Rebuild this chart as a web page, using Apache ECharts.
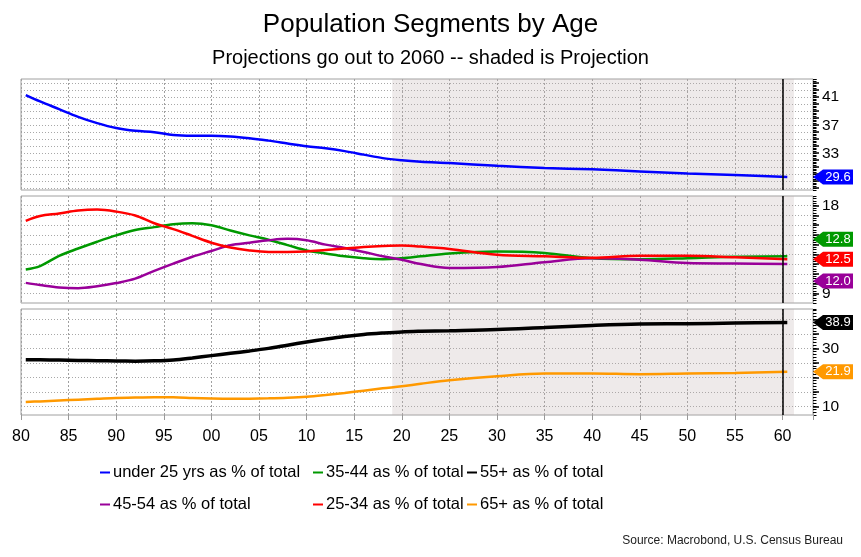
<!DOCTYPE html>
<html><head><meta charset="utf-8">
<script src="https://cdn.jsdelivr.net/npm/echarts@6/dist/echarts.min.js"></script>
<style>html,body{margin:0;padding:0;background:#fff}#c{width:861px;height:557px}</style>
</head><body><div id="c"></div>
<script>
// ---- data ----
const years   = [1980.5,1982,1984,1986,1988,1990,1992,1994,1996,1998,2000,2002,2004,2006,2008,2010,2012,2014,2016,2018,2020,2022,2025,2030,2035,2040,2045,2050,2055,2060.5];
const under25 = [41.3,40.4,39.3,38.2,37.3,36.6,36.2,36.0,35.6,35.5,35.5,35.4,35.15,34.8,34.4,34.0,33.7,33.3,32.8,32.3,32.0,31.8,31.6,31.2,30.9,30.7,30.4,30.1,29.9,29.6];
const age3544 = [11.45,11.8,12.85,13.6,14.3,14.95,15.5,15.8,16.1,16.2,16.0,15.45,14.95,14.5,13.95,13.4,13.1,12.8,12.6,12.5,12.6,12.8,13.1,13.3,13.15,12.6,12.5,12.6,12.75,12.8];
const age4554 = [10.07,9.85,9.6,9.52,9.72,10.05,10.5,11.3,12.05,12.75,13.35,13.95,14.2,14.45,14.6,14.45,14.0,13.65,13.25,12.8,12.45,12.0,11.6,11.7,12.2,12.6,12.45,12.1,12.05,12.0];
const age2534 = [16.45,16.95,17.2,17.5,17.6,17.4,17.0,16.2,15.6,14.9,14.2,13.7,13.4,13.25,13.25,13.3,13.45,13.6,13.75,13.85,13.9,13.8,13.55,12.95,12.8,12.65,12.85,12.85,12.7,12.5];
const age55p  = [26.1,26.05,25.95,25.85,25.75,25.65,25.6,25.7,26.0,26.7,27.5,28.3,29.1,30.0,31.1,32.2,33.2,34.1,34.8,35.3,35.7,35.9,36.1,36.5,37.2,37.9,38.4,38.5,38.75,38.9];
const age65p  = [11.5,11.7,12.0,12.3,12.6,12.9,13.0,13.15,13.1,12.9,12.7,12.6,12.65,12.75,12.95,13.3,13.9,14.6,15.4,16.2,16.9,17.8,19.0,20.4,21.3,21.3,21.1,21.3,21.5,21.9];
const seriesNames = ['under 25 yrs as % of total','35-44 as % of total','55+ as % of total','45-54 as % of total','25-34 as % of total','65+ as % of total'];
const projectionStart = 2019, projectionEnd = 2061.2, lastYearMark = 2060;
const xTicksMin = 1980, xMax = 2063.2;
const topTicks = [28,29,30,31,32,33,34,35,36,37,38,39,40,41,42,43], topLabels = [33,37,41];
const midTicks = [9,10,11,12,13,14,15,16,17,18], midLabels = [9,18];
const botTicks = [10,15,20,25,30,35,40], botLabels = [10,30];

// ---- fonts ----
function hasFont(f){const c=document.createElement('canvas').getContext('2d');c.font='20px monospace';const a=c.measureText('abcdefghijklmnopW').width;c.font="20px '"+f+"', monospace";return c.measureText('abcdefghijklmnopW').width!==a;}
const narrowOK = hasFont('Liberation Sans Narrow');
const NARROW = narrowOK ? "'Liberation Sans Narrow'" : "'Liberation Sans'";
const SANS = "'Liberation Sans', Arial, sans-serif";

const chart = echarts.init(document.getElementById('c'));
const pair = arr => years.map((y,i)=>[y,arr[i]]);
const dotH = {show:true, lineStyle:{color:'#a8a8a8', type:[1,2], width:1}};
const dotV = {show:true, lineStyle:{color:'#a0a0a0', type:[2,2], width:1}};
const grids = [
  {left:21, right:48, top:79, height:111},
  {left:21, right:48, top:196, height:107},
  {left:21, right:48, top:309, height:106}
].map(g=>Object.assign(g,{show:true, borderColor:'#a0a0a0', borderWidth:1, containLabel:false}));

function xAx(i){
  return {type:'value', gridIndex:i, min:xTicksMin, max:xMax, interval:5,
    axisLine:{show:false}, splitLine:dotV,
    axisTick:{show:i===2, length:5, lineStyle:{color:'#999'}},
    axisLabel:{show:i===2, fontFamily:SANS, fontSize:16, color:'#000', margin:14,
      formatter:v=> (Math.abs(v%5)<1e-6) ? String(Math.round(v)).slice(2) : ''}};
}
function yMain(gi,min,max,ticks,labels){
  return {type:'value', gridIndex:gi, position:'right', min:min, max:max,
    axisLine:{show:false}, splitLine:dotH,
    axisTick:{show:true, customValues:ticks, length:6, lineStyle:{color:'#000', width:1.5}},
    axisLabel:{show:true, customValues:labels, fontFamily:NARROW, fontSize:narrowOK?18:15.5, color:'#000', margin:9}};
}
function yMinor(gi,min,max,step){
  return {type:'value', gridIndex:gi, position:'right', min:min, max:max, interval:step,
    axisLine:{show:false}, splitLine:{show:false}, axisLabel:{show:false},
    axisTick:{show:true, length:3.5, lineStyle:{color:'#000', width:1}}};
}
const tagPath = 'path://M0,7.5 L10,0 L40,0 L40,15 L10,15 Z';
function tag(arr,color,dy){
  const v = arr[arr.length-1];
  return {symbol:tagPath, symbolSize:[40,15], symbolKeepAspect:false, symbolOffset:[20,dy||0], silent:true,
    itemStyle:{color:color},
    label:{show:true, position:'inside', offset:[5,0], color:'#fff', fontFamily:SANS, fontSize:13, formatter:p=>p.value.toFixed(1)},
    data:[{coord:[xMax,v], value:v}]};
}
const shade = {silent:true, itemStyle:{color:'rgba(187,171,171,0.25)'}, data:[[{xAxis:projectionStart},{xAxis:projectionEnd}]]};
const vline = {silent:true, symbol:['none','none'], label:{show:false}, lineStyle:{color:'#000', type:'solid', width:1.5}, data:[{xAxis:lastYearMark}]};
function line(name,arr,xi,yi,color,w,dy,extra){
  return Object.assign({name:name, type:'line', xAxisIndex:xi, yAxisIndex:yi, data:pair(arr), smooth:0.35,
    showSymbol:false, symbol:'none', lineStyle:{color:color, width:w}, itemStyle:{color:color},
    emphasis:{disabled:true}, markPoint:tag(arr,color,dy)}, extra||{});
}
const legendBase = {orient:'vertical', top:464, padding:0, itemWidth:10, itemHeight:2, itemGap:15, icon:'rect', selectedMode:false,
  textStyle:{fontFamily:NARROW, fontSize:narrowOK?20:16.5, color:'#000', padding:[0,0,0,-2]}};

chart.setOption({
  animation:false,
  backgroundColor:'#fff',
  title:[
    {text:'Population Segments by Age', left:'center', top:7, textStyle:{fontFamily:SANS, fontSize:26, fontWeight:'normal', color:'#000'}},
    {text:'Projections go out to 2060 -- shaded is Projection', left:'center', top:43, textStyle:{fontFamily:SANS, fontSize:20, fontWeight:'normal', color:'#000'}},
    {text:'Source: Macrobond, U.S. Census Bureau', right:13, top:530, textStyle:{fontFamily:SANS, fontSize:12, fontWeight:'normal', color:'#222'}}
  ],
  legend:[
    Object.assign({left:100, data:[seriesNames[0],seriesNames[3]]}, legendBase),
    Object.assign({left:313, data:[seriesNames[1],seriesNames[4]]}, legendBase),
    Object.assign({left:467, data:[seriesNames[2],seriesNames[5]]}, legendBase)
  ],
  grid:grids,
  xAxis:[xAx(0),xAx(1),xAx(2)],
  yAxis:[
    yMain(0,27.75,43.6,topTicks,topLabels), yMinor(0,27.75,43.6,0.25),
    yMain(1,8,19,midTicks,midLabels), yMinor(1,8,19,0.25),
    yMain(2,7,43.6,botTicks,botLabels), yMinor(2,7,43.6,1)
  ],
  series:[
    line(seriesNames[0], under25, 0,0,'#0000ff',2.5,0,{markArea:shade, markLine:vline}),
    line(seriesNames[1], age3544, 1,2,'#009900',2.5,-17,{markArea:shade, markLine:vline}),
    line(seriesNames[2], age55p, 2,4,'#000000',3.5,0,{markArea:shade, markLine:vline}),
    line(seriesNames[3], age4554, 1,2,'#990099',2.5,17),
    line(seriesNames[4], age2534, 1,2,'#ff0000',2.5,0),
    line(seriesNames[5], age65p, 2,4,'#ff9900',2.5,0)
  ]
});
</script></body></html>
